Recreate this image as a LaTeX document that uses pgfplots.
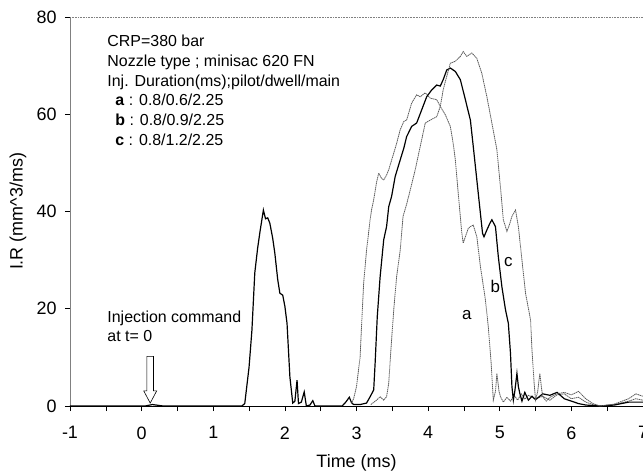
\documentclass[border=0pt]{standalone}
\usepackage{pgfplots}
\pgfplotsset{compat=1.18}
\usepackage{fontspec}
\setmainfont{Liberation Sans}
\begin{document}
\begin{tikzpicture}
\begin{axis}[
  name=ax,
  scale only axis,
  width=573bp, height=389bp,
  xmin=-1, xmax=7, ymin=0, ymax=80,
  xtick={-1,0,...,7},
  minor xtick={-0.5,0.5,...,6.5},
  ytick={0,20,...,80},
  tick align=outside,
  major tick length=5bp,
  minor tick length=5bp,
  tick style={black, line width=0.6pt},
  axis x line*=bottom,
  axis y line*=left,
  x axis line style={-, black, line width=0.8pt},
  y axis line style={-, gray, line width=0.8pt},
  /pgf/number format/assume math mode=true,
  ticklabel style={font=\fontsize{18}{20}\selectfont},
  xticklabel style={yshift=-12bp},
  yticklabel style={xshift=-5bp},
  xlabel={Time (ms)},
  ylabel={I.R (mm\textasciicircum 3/ms)},
  every axis x label/.style={at={(axis description cs:0.5,0)}, anchor=center, yshift=-57bp, font=\fontsize{18}{20}\selectfont},
  every axis y label/.style={at={(axis description cs:0,0.5)}, anchor=center, xshift=-52bp, rotate=90, font=\fontsize{18}{20}\selectfont},
  clip=true,
]
\draw[densely dotted, gray, line width=0.6pt] (rel axis cs:0,1) -- (rel axis cs:1,1);

% pilot injection (common to a, b, c)
\addplot[black, line width=1.2pt] coordinates {
(-1,0) (0.05,0) (0.15,0.3) (0.3,0) (1.40,0) (1.44,0.5) (1.50,8) (1.54,15.6) (1.58,27.4) (1.62,32.5) (1.65,35.6) (1.70,40.3) (1.73,38.5) (1.76,38.7) (1.79,37.6) (1.83,34.5) (1.86,31.4) (1.90,26) (1.93,23.2) (1.97,22.8) (2.00,20.5) (2.03,17) (2.07,6) (2.11,0.6) (2.14,1) (2.17,5.3) (2.19,0.5) (2.23,0.8) (2.27,2.9) (2.30,0) (2.35,0.2) (2.39,1.1) (2.42,0) (2.80,0) (2.85,0.8) (2.90,1.8) (2.93,0.7) (2.96,0.3) (3.05,0.3)
};

% a
\addplot[black!65, line width=0.8pt, dash pattern=on 1.4pt off 0.6pt] coordinates {
(2.93,0.5) (2.96,1.5) (3.00,4) (3.05,10) (3.07,16.3) (3.10,25.3) (3.14,32) (3.19,38.3) (3.21,40.3) (3.24,42.4) (3.28,46) (3.31,47.9) (3.35,46.8) (3.38,46.5) (3.42,47.5) (3.45,48.6) (3.52,52) (3.56,54) (3.61,56.8) (3.66,58.5) (3.70,58.8) (3.77,62.3) (3.84,64) (3.89,63.6) (3.96,64.4) (4.03,63.3) (4.12,63) (4.17,61.6) (4.24,59.9) (4.31,57.5) (4.35,54) (4.38,50.6) (4.42,43.8) (4.47,35.6) (4.49,33.5) (4.52,34.8) (4.56,36.5) (4.59,36.9) (4.63,37.2) (4.68,34.8) (4.73,28.7) (4.80,21.8) (4.84,16.3) (4.88,8.8) (4.91,1.2) (4.94,3) (4.96,6.7) (4.99,3) (5.01,1.9) (5.05,0.8) (5.10,1.8) (5.15,1) (5.20,2.2) (5.25,1.2) (5.30,2.5) (5.35,1.4) (5.40,2.2) (5.50,1.5) (5.60,2) (5.70,1.2) (5.80,2.3) (5.90,2.5) (6.00,1.5) (6.10,1.8) (6.20,0.8) (6.30,0.3) (6.40,0) (6.60,0.3) (6.80,1) (6.90,1.5) (7,1.2)
};

% b
\addplot[black, line width=1.2pt] coordinates {
(3.05,0.3) (3.14,0.6) (3.19,1.9) (3.24,3.3) (3.26,8.8) (3.29,18.4) (3.33,26.6) (3.38,34.2) (3.42,36.9) (3.45,41) (3.49,43.1) (3.54,47.2) (3.61,50.6) (3.66,53) (3.70,55.4) (3.77,57.5) (3.84,58.2) (3.91,60.9) (3.98,63.6) (4.05,65) (4.12,66) (4.17,65.8) (4.21,67.1) (4.26,69.1) (4.31,69.5) (4.38,68.8) (4.45,67.1) (4.52,63) (4.59,58.8) (4.63,53.4) (4.68,46.5) (4.73,39.6) (4.76,35.5) (4.78,34.8) (4.82,36.2) (4.86,37.5) (4.89,38.3) (4.94,36.9) (4.98,30.7) (5.03,24.5) (5.08,19.8) (5.12,17) (5.15,10.8) (5.17,4) (5.19,1.2) (5.21,3) (5.24,6.7) (5.26,4) (5.28,2.6) (5.31,1) (5.35,2.8) (5.40,1.2) (5.45,2) (5.50,1.3) (5.60,2.5) (5.70,2.2) (5.80,2.8) (5.90,1.5) (6.00,1) (6.10,0.5) (6.20,0.2) (6.40,0) (6.60,0.2) (6.80,0.8) (7,0.8)
};

% c
\addplot[black!65, line width=0.8pt, dash pattern=on 1.4pt off 0.6pt] coordinates {
(3.20,0.3) (3.28,1.2) (3.33,1.9) (3.38,1.2) (3.42,1.9) (3.45,4.7) (3.48,11.5) (3.52,19.8) (3.56,26.6) (3.61,32) (3.65,39) (3.70,41.5) (3.75,44.4) (3.82,48.6) (3.89,53.4) (3.96,58.2) (4.03,58.8) (4.12,59.5) (4.17,61.6) (4.21,65) (4.26,67.8) (4.31,70.5) (4.38,70.9) (4.45,71.9) (4.49,72.9) (4.54,71.9) (4.61,72.6) (4.68,71.5) (4.75,68.4) (4.82,63.6) (4.89,58.2) (4.96,52.7) (5.01,45) (5.05,38.3) (5.10,35.9) (5.14,37.5) (5.17,39) (5.22,40.3) (5.26,36.9) (5.31,30) (5.36,23.2) (5.43,17.7) (5.45,11.5) (5.48,4.7) (5.50,1.2) (5.53,3) (5.56,6.7) (5.58,4) (5.60,1.9) (5.65,1) (5.70,1.8) (5.80,2.5) (5.90,2.8) (6.00,2.3) (6.10,3) (6.20,1.5) (6.30,0.5) (6.40,0) (6.60,0.4) (6.80,1.5) (6.90,2.5) (7,2)
};

% injection command arrow
\draw[black, line width=0.6pt, fill=white] (axis cs:0.074,10.2) -- (axis cs:0.074,3.1) -- (axis cs:0.03,3.1) -- (axis cs:0.12,0.6) -- (axis cs:0.21,3.1) -- (axis cs:0.166,3.1) -- (axis cs:0.166,10.2) -- cycle;

\node[anchor=north west, inner sep=0pt, align=left, font=\fontsize{16}{19.8}\selectfont] at (axis cs:-0.48,76.3)
 {CRP=380 bar\\
  Nozzle type ; minisac 620 FN\\
  Inj. Duration(ms);pilot/dwell/main\\
  \hspace{8bp}\textbf{a} : 0.8/0.6/2.25\\
  \hspace{8bp}\textbf{b} : 0.8/0.9/2.25\\
  \hspace{8bp}\textbf{c} : 0.8/1.2/2.25};

\node[anchor=north west, inner sep=0pt, align=left, font=\fontsize{16}{18.5}\selectfont] at (axis cs:-0.48,19.5)
 {Injection command\\at t= 0};

\node[font=\fontsize{17}{18}\selectfont] at (axis cs:4.54,18.7) {a};
\node[font=\fontsize{17}{18}\selectfont] at (axis cs:4.94,24.5) {b};
\node[font=\fontsize{17}{18}\selectfont] at (axis cs:5.12,29.7) {c};
\end{axis}
\pgfresetboundingbox
\path[use as bounding box] ([xshift=-70bp,yshift=-69bp]ax.south west) rectangle ([yshift=17bp]ax.north east);
\end{tikzpicture}
\end{document}
